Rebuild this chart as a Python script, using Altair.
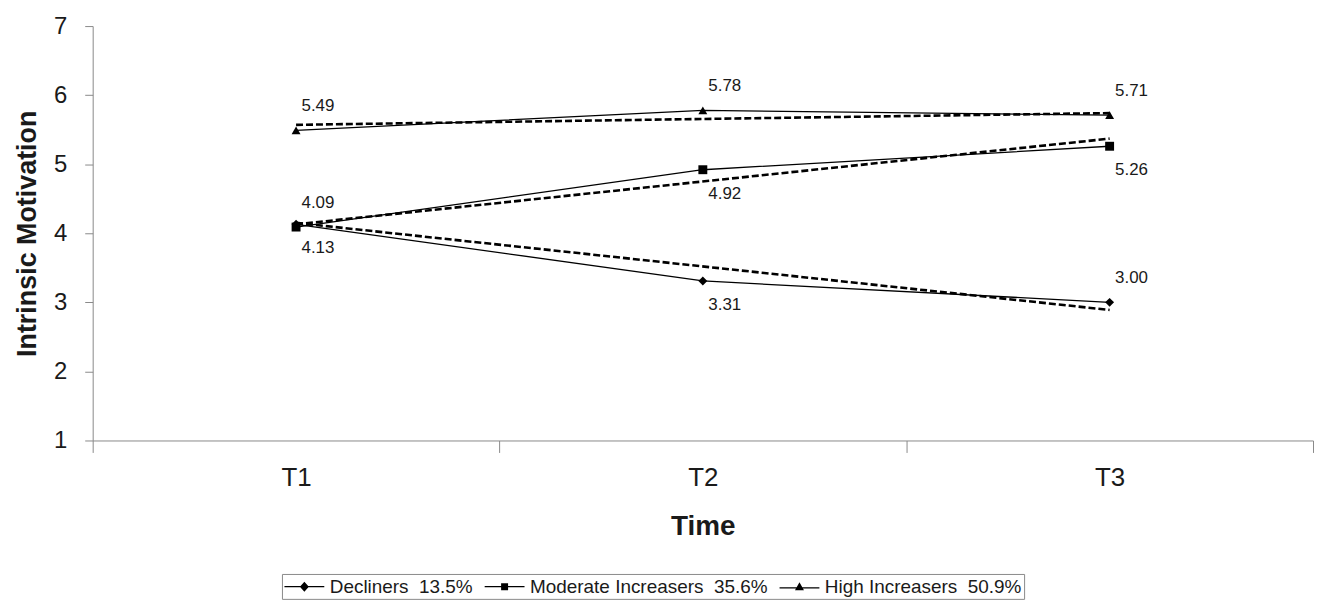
import altair as alt
import pandas as pd

times = ["T1", "T2", "T3"]
series = [
    "Decliners\u00a0\u00a013.5%",
    "Moderate Increasers\u00a0\u00a035.6%",
    "High Increasers\u00a0\u00a050.9%",
]
decliners = [4.13, 3.31, 3.00]
moderate = [4.09, 4.92, 5.26]
high = [5.49, 5.78, 5.71]
labels_decl = ["4.13", "3.31", "3.00"]
labels_mod = ["4.09", "4.92", "5.26"]
labels_high = ["5.49", "5.78", "5.71"]
side_decl = ["below", "below", "above"]
side_mod = ["above", "below", "below"]
side_high = ["above", "above", "above"]

trend_times = ["T1", "T3"]
trend_decl = [4.15, 2.89]
trend_mod = [4.13, 5.37]
trend_high = [5.57, 5.74]

point_shapes = ["diamond", "square", "triangle-up"]
legend_shapes = [
    "M-1,-0.06H3V0.06H-1ZM1,-0.5L1.45,0L1,0.5L0.55,0Z",
    "M-1,-0.06H3V0.06H-1ZM0.65,-0.35H1.35V0.35H0.65Z",
    "M-1,0.06H3V0.18H-1ZM0.55,0.35L1,-0.45L1.45,0.35Z",
]

rows = []
for s, vals, labs, sides in [
    (series[0], decliners, labels_decl, side_decl),
    (series[1], moderate, labels_mod, side_mod),
    (series[2], high, labels_high, side_high),
]:
    for t, v, l, sd in zip(times, vals, labs, sides):
        rows.append({"series": s, "time": t, "value": v, "label": l, "side": sd})
df = pd.DataFrame(rows)

trows = []
for s, vals in [(series[0], trend_decl), (series[1], trend_mod), (series[2], trend_high)]:
    for t, v in zip(trend_times, vals):
        trows.append({"series": s, "time": t, "value": v})
tdf = pd.DataFrame(trows)

FONT = "Liberation Sans"
AX = "#8a8a8a"

x_enc = alt.X(
    "time:N",
    scale=alt.Scale(type="band", domain=times, padding=0),
    bandPosition=0.5,
    axis=alt.Axis(
        title="Time", labelAngle=0, tickBand="extent", tickSize=12,
        domainColor=AX, tickColor=AX, labelFontSize=26, labelFont=FONT,
        labelColor="#1a1a1a", labelPadding=12, titleFont=FONT, titleFontSize=28,
        titleFontWeight="bold", titleColor="#1a1a1a", titlePadding=22, grid=False,
    ),
)
y_enc = alt.Y(
    "value:Q",
    scale=alt.Scale(domain=[1, 7], nice=False, zero=False),
    axis=alt.Axis(
        title="Intrinsic Motivation", values=[1, 2, 3, 4, 5, 6, 7], grid=False,
        tickSize=8, domainColor=AX, tickColor=AX, labelFontSize=24, labelFont=FONT,
        labelColor="#1a1a1a", labelPadding=18, titleFont=FONT, titleFontSize=27,
        titleFontWeight="bold", titleColor="#1a1a1a", titlePadding=12,
    ),
)

base = alt.Chart(df)

solid = base.mark_line(color="black", strokeWidth=1.3).encode(
    x=x_enc, y=y_enc, detail="series:N"
)
dashed = alt.Chart(tdf).mark_line(
    color="black", strokeWidth=2.6, strokeDash=[7, 3]
).encode(x=x_enc, y=y_enc, detail="series:N")

points = base.mark_point(filled=True, color="black", opacity=1, size=80).encode(
    x=x_enc, y=y_enc,
    shape=alt.Shape("series:N", scale=alt.Scale(domain=series, range=point_shapes), legend=None),
)

legend_layer = base.mark_point(opacity=0, color="black", filled=True).encode(
    x=x_enc, y=y_enc,
    shape=alt.Shape(
        "series:N",
        scale=alt.Scale(domain=series, range=legend_shapes),
        legend=alt.Legend(
            title=None, orient="none", legendX=190, legendY=550,
            direction="horizontal", labelFont=FONT, labelFontSize=19,
            labelColor="#1a1a1a", labelLimit=400, symbolSize=400,
            strokeColor=AX, padding=2, columnPadding=10, labelOffset=25,
            symbolFillColor="black", symbolStrokeColor="black",
            symbolStrokeWidth=0.6, symbolOpacity=1,
        ),
    ),
)

labels_above = base.transform_filter(alt.datum.side == "above").mark_text(
    font=FONT, fontSize=17, color="#1a1a1a", dx=22, dy=-24
).encode(x=x_enc, y=y_enc, text="label:N")
labels_below = base.transform_filter(alt.datum.side == "below").mark_text(
    font=FONT, fontSize=17, color="#1a1a1a", dx=22, dy=24
).encode(x=x_enc, y=y_enc, text="label:N")

chart = (
    alt.layer(solid, dashed, points, legend_layer, labels_above, labels_below)
    .resolve_scale(shape="independent")
    .properties(width=1225, height=416, padding={"left": 5, "top": 5, "right": 0, "bottom": 0})
    .configure_view(stroke=None)
)

chart.save("out.html", embed_options={"renderer": "svg", "actions": False})
